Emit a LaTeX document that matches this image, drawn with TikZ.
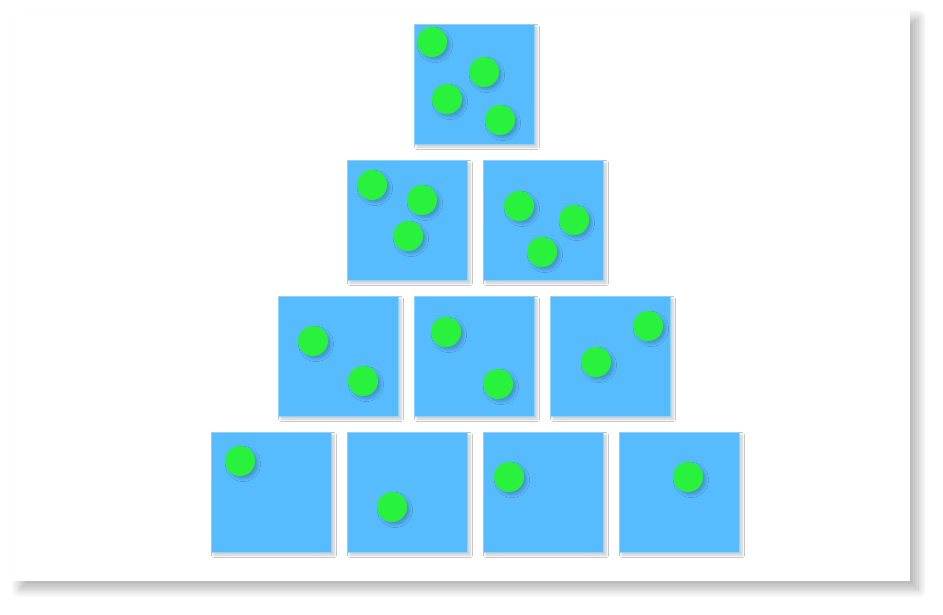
\documentclass[tikz,border=0pt]{standalone}
\usetikzlibrary{shadows.blur}
\definecolor{tileblue}{HTML}{57BCFE}
\definecolor{tileedge}{HTML}{8ED2FF}
\definecolor{dotgreen}{HTML}{28F23B}
\begin{document}
\begin{tikzpicture}[x=1pt,y=-1pt,
  card/.style={fill=white,blur shadow={shadow xshift=8pt,shadow yshift=-8pt,shadow blur radius=9pt,shadow blur steps=14,shadow opacity=30}},
  tile/.style={rectangle,minimum size=120pt,inner sep=0pt,fill=tileblue,draw=tileedge,line width=0.8pt,
    blur shadow={shadow xshift=3pt,shadow yshift=-3pt,shadow blur radius=2.5pt,shadow blur steps=6,shadow opacity=22}},
  dot/.style={circle,minimum size=30pt,inner sep=0pt,fill=dotgreen,
    blur shadow={shadow xshift=3pt,shadow yshift=-3pt,shadow blur radius=2.5pt,shadow blur steps=6,shadow opacity=20}}]
\useasboundingbox (0,0) rectangle (943,614);
\path[card] (12,10) rectangle (910,581);
% tiles
\node[tile] (t1) at (474,84) {};
\node[tile] (t2) at (407,220) {};
\node[tile] (t3) at (543,220) {};
\node[tile] (t4) at (338,356) {};
\node[tile] (t5) at (474,356) {};
\node[tile] (t6) at (610,356) {};
\node[tile] (t7) at (271,492) {};
\node[tile] (t8) at (407,492) {};
\node[tile] (t9) at (543,492) {};
\node[tile] (t10) at (679,492) {};
% dots
\node[dot] (d1a) at (432,42) {};
\node[dot] (d1b) at (484,72) {};
\node[dot] (d1c) at (447,99) {};
\node[dot] (d1d) at (500,120) {};
\node[dot] (d2a) at (372,185) {};
\node[dot] (d2b) at (422,200) {};
\node[dot] (d2c) at (408,236) {};
\node[dot] (d3a) at (519,206) {};
\node[dot] (d3b) at (574,220) {};
\node[dot] (d3c) at (542,252) {};
\node[dot] (d4a) at (313,341) {};
\node[dot] (d4b) at (363,381) {};
\node[dot] (d5a) at (446,332) {};
\node[dot] (d5b) at (498,384) {};
\node[dot] (d6a) at (648,326) {};
\node[dot] (d6b) at (596,362) {};
\node[dot] (d7) at (240,461) {};
\node[dot] (d8) at (392,507) {};
\node[dot] (d9) at (509,477) {};
\node[dot] (d10) at (688,477) {};
\end{tikzpicture}
\end{document}
